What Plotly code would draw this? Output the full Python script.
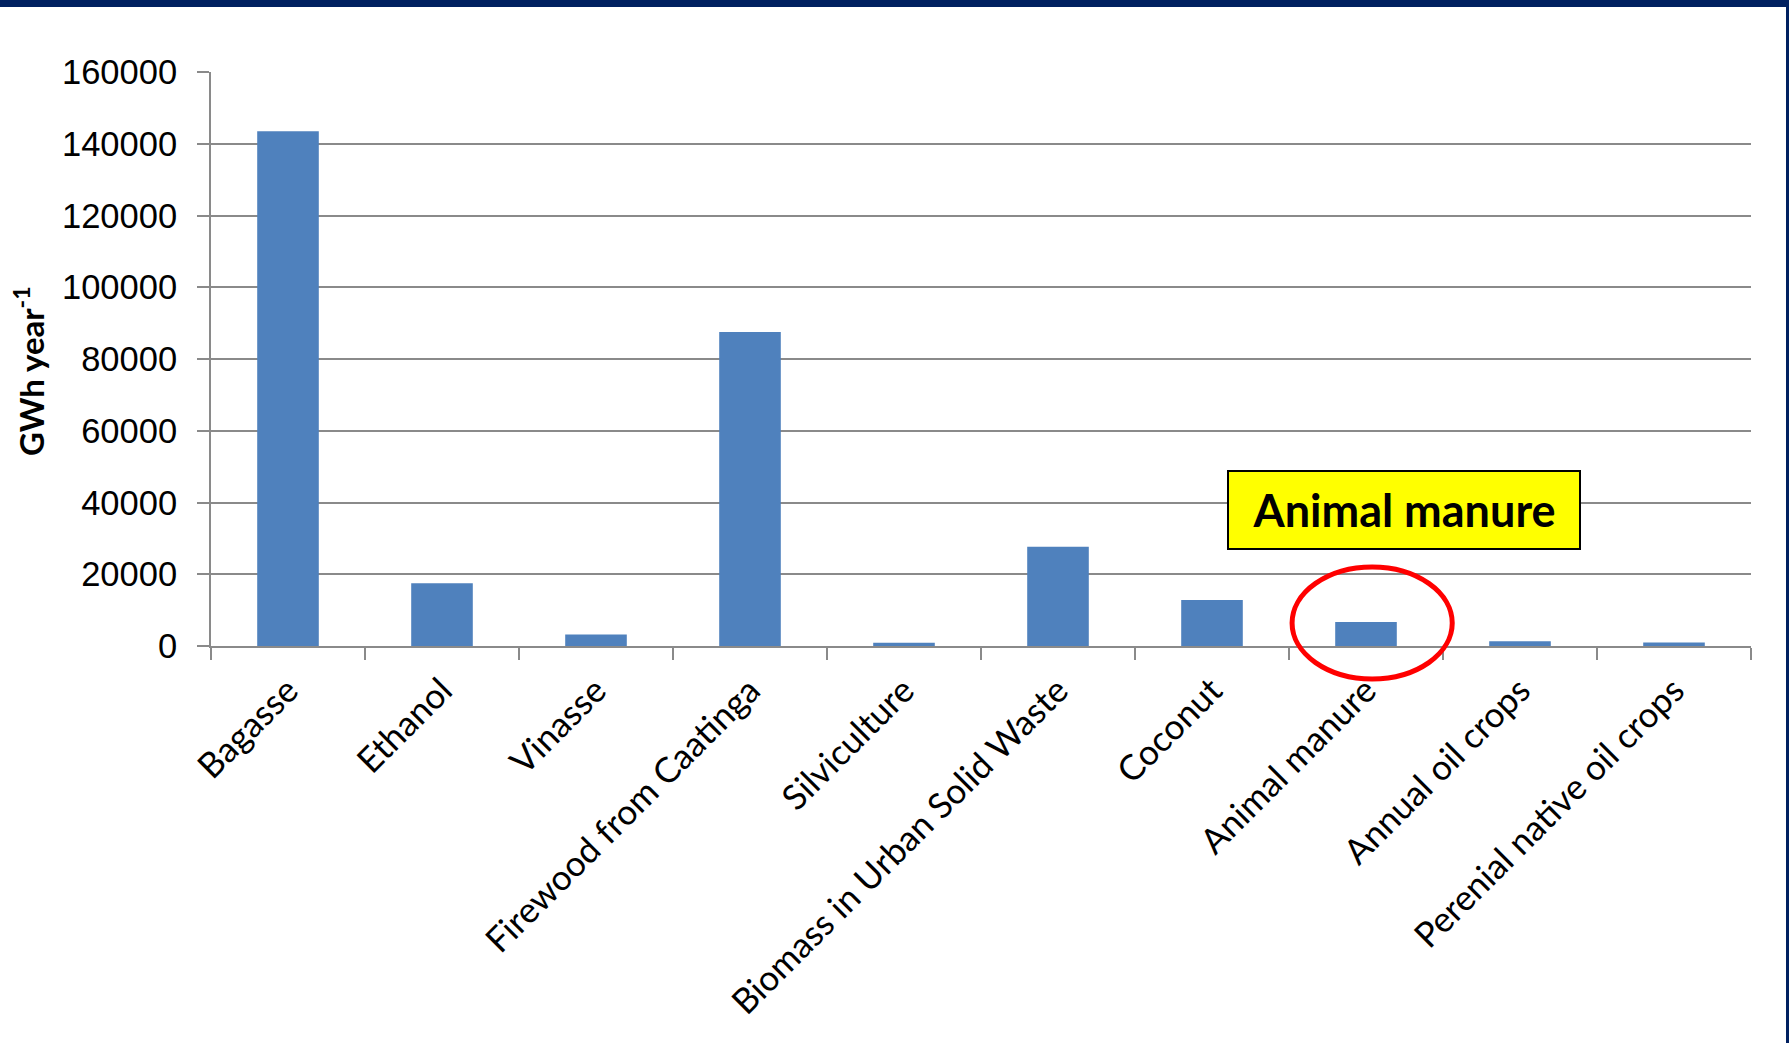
import plotly.graph_objects as go

categories = ["Bagasse", "Ethanol", "Vinasse", "Firewood from Caatinga", "Silviculture",
              "Biomass in Urban Solid Waste", "Coconut", "Animal manure",
              "Annual oil crops", "Perenial native oil crops"]
values = [143500, 17500, 3200, 87500, 900, 27700, 12800, 6700, 1300, 1000]
y_ticks = [0, 20000, 40000, 60000, 80000, 100000, 120000, 140000, 160000]
y_title = "GWh year<sup>-1</sup>"
highlight = "Animal manure"

W, H = 1789, 1043
L, R, T, B = 211, 38, 72, 397
pw, ph = W - L - R, H - T - B

def px_x(x):
    return (x - L) / pw

def px_y(y):
    return (H - B - y) / ph

fig = go.Figure()
fig.add_trace(go.Bar(x=categories, y=values, marker=dict(color="#4F81BD", line=dict(width=0)),
                     width=0.4))

grid = "#8A8A8A"
fig.update_layout(
    width=W, height=H,
    margin=dict(l=L, r=R, t=T, b=B),
    paper_bgcolor="white", plot_bgcolor="white",
    showlegend=False,
    xaxis=dict(type="category", showgrid=False, showline=True, linecolor=grid, linewidth=2,
               ticks="outside", tickson="boundaries", ticklen=12, tickcolor=grid, tickwidth=2,
               tickangle=-45, tickfont=dict(family="Lato", size=35, color="black"),
               ticklabelstandoff=8),
    yaxis=dict(range=[0, 160000], tickvals=y_ticks, ticktext=[str(v) for v in y_ticks],
               showgrid=True, gridcolor=grid, gridwidth=1.5, showline=True, linecolor=grid,
               linewidth=2, ticks="outside", ticklen=12, tickcolor=grid, tickwidth=2,
               tickfont=dict(family="Liberation Sans", size=34.5, color="black"),
               ticklabelstandoff=13, zeroline=False),
)

# y-axis title placed as rotated annotation
fig.add_annotation(text="<b>" + y_title + "</b>", xref="paper", yref="paper",
                   x=px_x(29), y=px_y(371), showarrow=False, textangle=-90,
                   font=dict(family="Lato", size=33, color="black"),
                   xanchor="center", yanchor="middle")

# navy frame pieces
fig.add_shape(type="rect", xref="paper", yref="paper", x0=px_x(0), x1=px_x(W), y0=px_y(7), y1=px_y(0),
              fillcolor="#002060", line=dict(width=0), layer="above")
fig.add_shape(type="rect", xref="paper", yref="paper", x0=px_x(1786), x1=px_x(W), y0=px_y(H), y1=px_y(0),
              fillcolor="#002060", line=dict(width=0), layer="above")

# red ellipse around highlighted bar
idx = categories.index(highlight)
cx = (idx + 0.5) / len(categories) + 0.004
fig.add_shape(type="circle", xref="x domain", yref="y domain",
              x0=cx - 0.052, x1=cx + 0.052, y0=px_y(679), y1=px_y(567),
              line=dict(color="#FF0000", width=5), fillcolor="rgba(0,0,0,0)")

fig.add_annotation(text="<b>" + highlight + "</b>", xref="paper", yref="paper",
                   x=px_x(1404), y=px_y(510), showarrow=False,
                   font=dict(family="Lato", size=45, color="black"),
                   bgcolor="#FFFF00", bordercolor="black", borderwidth=2, borderpad=2,
                   width=346, height=72, xanchor="center", yanchor="middle")

fig.write_html("out.html")
